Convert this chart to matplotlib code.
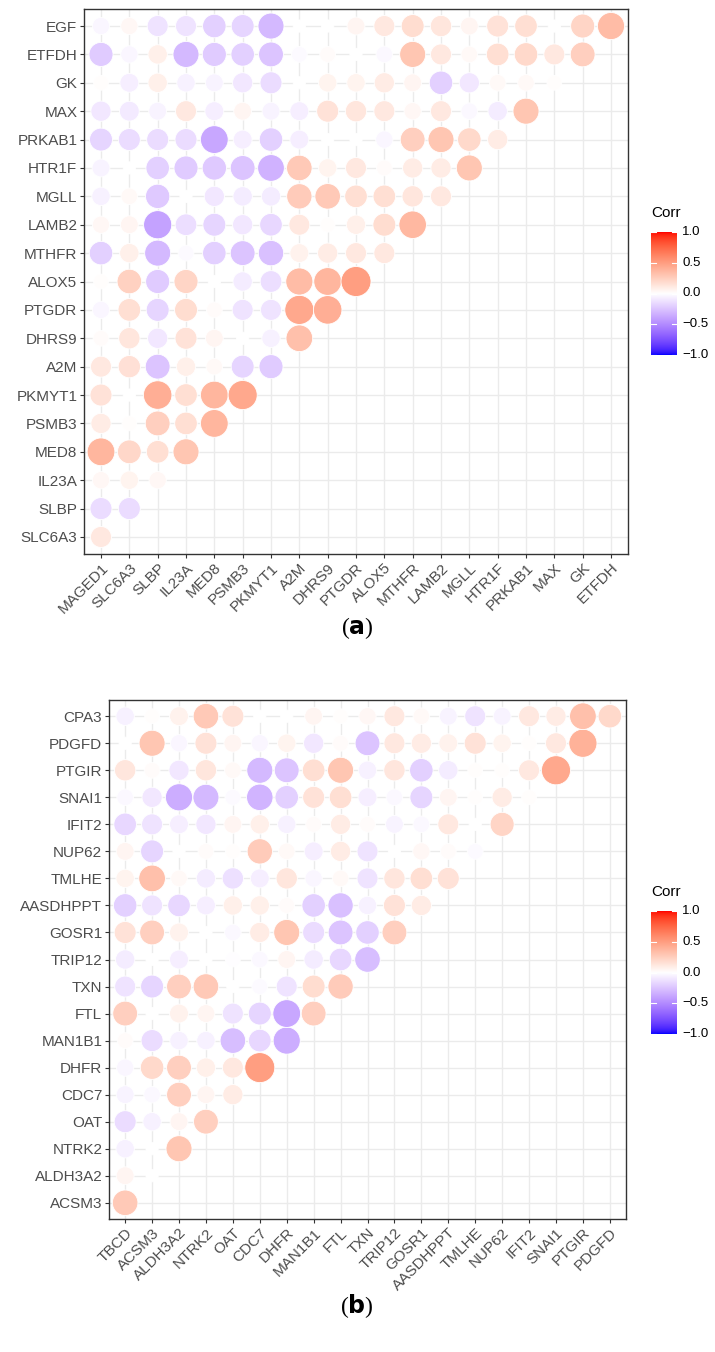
import numpy as np
import matplotlib.pyplot as plt

W, H, DPI = 715, 1352, 100

# panel (a): variable order, lower triangle (row i holds corr with vars 0..i-1)
genes_a = ["MAGED1", "SLC6A3", "SLBP", "IL23A", "MED8", "PSMB3", "PKMYT1", "A2M",
           "DHRS9", "PTGDR", "ALOX5", "MTHFR", "LAMB2", "MGLL", "HTR1F", "PRKAB1",
           "MAX", "GK", "ETFDH", "EGF"]
tri_a = [
    [0.12],
    [-0.15, -0.15],
    [0.04, 0.06, 0.04],
    [0.38, 0.21, 0.17, 0.30],
    [0.10, 0.01, 0.25, 0.17, 0.38],
    [0.15, 0.00, 0.42, 0.17, 0.38, 0.45],
    [0.12, 0.16, -0.25, 0.08, 0.03, -0.18, -0.22],
    [0.02, 0.13, -0.10, 0.15, 0.05, 0.00, -0.06, 0.33],
    [-0.04, 0.17, -0.18, 0.18, 0.02, -0.12, -0.12, 0.45, 0.42],
    [0.01, 0.24, -0.22, 0.22, 0.00, -0.08, -0.14, 0.35, 0.38, 0.50],
    [-0.20, 0.08, -0.30, -0.02, -0.20, -0.25, -0.27, 0.07, 0.10, 0.12, 0.12],
    [0.04, 0.05, -0.40, -0.14, -0.18, -0.10, -0.17, 0.12, 0.01, 0.08, 0.18, 0.37],
    [-0.06, 0.03, -0.23, 0.00, -0.10, -0.08, -0.08, 0.27, 0.28, 0.17, 0.17, 0.13, 0.12],
    [-0.05, 0.00, -0.20, -0.22, -0.23, -0.25, -0.33, 0.28, 0.06, 0.12, 0.02, 0.10, 0.10, 0.30],
    [-0.18, -0.15, -0.15, -0.15, -0.38, -0.07, -0.20, -0.07, 0.00, 0.00, -0.04, 0.25, 0.30,
     0.20, 0.10],
    [-0.10, -0.09, -0.05, 0.12, -0.07, 0.05, -0.05, -0.07, 0.15, 0.13, 0.12, 0.04, 0.12,
     -0.03, -0.08, 0.30],
    [0.01, -0.07, 0.08, -0.06, -0.05, -0.10, -0.15, 0.00, 0.06, 0.06, 0.10, 0.05, -0.20,
     -0.10, 0.03, 0.03, 0.01],
    [-0.22, -0.04, 0.08, -0.30, -0.22, -0.20, -0.25, -0.02, 0.02, 0.00, -0.03, 0.30, 0.12,
     0.03, 0.17, 0.20, 0.12, 0.25],
    [-0.04, 0.04, -0.12, -0.12, -0.20, -0.18, -0.30, 0.00, 0.00, 0.05, 0.12, 0.18, 0.13,
     0.05, 0.15, 0.17, 0.00, 0.22, 0.35],
]

# panel (b)
genes_b = ["TBCD", "ACSM3", "ALDH3A2", "NTRK2", "OAT", "CDC7", "DHFR", "MAN1B1", "FTL",
           "TXN", "TRIP12", "GOSR1", "AASDHPPT", "TMLHE", "NUP62", "IFIT2", "SNAI1",
           "PTGIR", "PDGFD", "CPA3"]
tri_b = [
    [0.28],
    [0.05, 0.00],
    [-0.06, 0.00, 0.30],
    [-0.15, -0.06, 0.05, 0.25],
    [-0.05, -0.03, 0.25, 0.05, 0.10],
    [-0.04, 0.20, 0.25, 0.08, 0.12, 0.50],
    [0.02, -0.15, -0.06, -0.06, -0.28, -0.17, -0.35],
    [0.25, 0.00, 0.07, 0.05, -0.12, -0.18, -0.38, 0.25],
    [-0.12, -0.18, 0.25, 0.28, 0.00, -0.02, -0.12, 0.18, 0.27],
    [-0.08, 0.00, -0.07, 0.00, -0.01, -0.03, 0.05, -0.08, -0.17, -0.28],
    [0.15, 0.25, 0.07, 0.00, -0.03, 0.10, 0.30, -0.15, -0.25, -0.20, 0.25],
    [-0.20, -0.12, -0.17, -0.07, 0.08, 0.08, 0.02, -0.20, -0.27, -0.06, 0.15, 0.10],
    [0.06, 0.33, 0.03, -0.08, -0.13, -0.07, 0.13, -0.04, 0.03, -0.12, 0.13, 0.17, 0.15],
    [0.05, -0.18, 0.00, 0.02, 0.01, 0.27, 0.03, -0.07, 0.10, -0.12, 0.00, 0.04, 0.02, -0.02],
    [-0.17, -0.12, -0.07, -0.10, 0.05, 0.08, -0.06, 0.02, 0.10, 0.02, -0.05, -0.03, 0.12,
     0.00, 0.22],
    [-0.03, -0.10, -0.35, -0.30, -0.02, -0.32, -0.20, 0.15, 0.17, -0.07, -0.03, -0.18, 0.05,
     0.01, 0.10, 0.01],
    [0.13, 0.02, -0.10, 0.13, 0.03, -0.30, -0.25, 0.17, 0.30, -0.06, 0.13, -0.20, -0.08,
     0.01, 0.01, 0.12, 0.45],
    [0.00, 0.30, -0.04, 0.15, 0.05, -0.04, 0.06, -0.10, 0.02, -0.25, 0.12, 0.10, 0.07, 0.15,
     0.06, 0.01, 0.12, 0.40],
    [-0.06, 0.01, 0.07, 0.28, 0.15, 0.00, 0.00, 0.05, 0.01, 0.04, 0.12, 0.03, -0.05, -0.12,
     -0.05, 0.12, 0.10, 0.33, 0.20],
]

legend_ticks = [-1.0, -0.5, 0.0, 0.5, 1.0]


# blue - white - red gradient interpolated in CIELAB (like scale_fill_gradient2)
def srgb_to_lab(rgb):
    c = np.asarray(rgb, float)
    c = np.where(c <= 0.04045, c / 12.92, ((c + 0.055) / 1.055) ** 2.4)
    m = np.array([[0.4124, 0.3576, 0.1805], [0.2126, 0.7152, 0.0722], [0.0193, 0.1192, 0.9505]])
    xyz = m @ c / np.array([0.95047, 1.0, 1.08883])
    f = np.where(xyz > 0.008856, np.cbrt(xyz), 7.787 * xyz + 16 / 116)
    return np.array([116 * f[1] - 16, 500 * (f[0] - f[1]), 200 * (f[1] - f[2])])


def lab_to_srgb(lab):
    fy = (lab[0] + 16) / 116
    fx = fy + lab[1] / 500
    fz = fy - lab[2] / 200
    f = np.array([fx, fy, fz])
    xyz = np.where(f ** 3 > 0.008856, f ** 3, (f - 16 / 116) / 7.787) * np.array([0.95047, 1.0, 1.08883])
    m = np.array([[3.2406, -1.5372, -0.4986], [-0.9689, 1.8758, 0.0415], [0.0557, -0.2040, 1.0570]])
    c = m @ xyz
    c = np.where(c <= 0.0031308, 12.92 * c, 1.055 * np.clip(c, 0, None) ** (1 / 2.4) - 0.055)
    return np.clip(c, 0, 1)


LAB_W = srgb_to_lab([1, 1, 1])
LAB_R = srgb_to_lab([1, 0, 0])
LAB_B = srgb_to_lab([0, 0, 1])


def corr_color(v):
    end = LAB_R if v >= 0 else LAB_B
    return lab_to_srgb(LAB_W + abs(v) * (end - LAB_W))


TXT = "#4D4D4D"
DARK = "#333333"


def px_axes(fig, x0, y0, x1, y1):
    return fig.add_axes([x0 / W, 1 - y1 / H, (x1 - x0) / W, (y1 - y0) / H])


def draw_panel(ax, genes, tri):
    xs, ys, vals = [], [], []
    for i, row in enumerate(tri, start=1):
        for j, v in enumerate(row):
            xs.append(j)
            ys.append(i - 1)
            vals.append(v)
    vals = np.array(vals)
    a = np.abs(vals)
    r = (a - a.min()) / (a.max() - a.min())
    d_px = 12.3 + (30.0 - 12.3) * np.sqrt(r)
    sizes = (d_px * 72 / DPI) ** 2
    cols = [corr_color(v) for v in vals]
    ax.scatter(xs, ys, s=sizes, c=cols, edgecolors="white", linewidths=0.6, zorder=3)

    n = len(genes) - 1
    ax.set_xlim(-0.6, n - 1 + 0.6)
    ax.set_ylim(-0.6, n - 1 + 0.6)
    ax.set_xticks(range(n))
    ax.set_xticklabels(genes[:-1], rotation=45, ha="right", va="top", rotation_mode="anchor")
    ax.set_yticks(range(n))
    ax.set_yticklabels(genes[1:])
    ax.grid(True, color="#EBEBEB", linewidth=1.0)
    ax.set_axisbelow(True)
    for sp in ax.spines.values():
        sp.set_color(DARK)
        sp.set_linewidth(1.0)
    ax.tick_params(length=2.8, width=0.8, color=DARK, labelsize=11, labelcolor=TXT, pad=2)


def draw_legend(fig, y_top):
    cax = px_axes(fig, 651, y_top, 677, y_top + 123)
    grad = np.linspace(-1, 1, 200)
    img = np.array([corr_color(v) for v in grad])[:, None, :]
    cax.imshow(img, extent=[0, 1, -1, 1], origin="lower", aspect="auto")
    for t in legend_ticks:
        cax.plot([0, 0.2], [t, t], color="white", lw=0.8)
        cax.plot([0.8, 1], [t, t], color="white", lw=0.8)
        cax.text(1.2, t, f"{t:.1f}".replace("-", "\u2212"), ha="left", va="center",
                 fontsize=9.5, color="black", family="Liberation Sans")
    cax.set_xlim(0, 1)
    cax.set_ylim(-1, 1)
    cax.axis("off")
    fig.text(651 / W, 1 - (y_top - 19) / H, "Corr", ha="left", va="center",
             fontsize=11, color="black", family="Liberation Sans")


plt.rcParams["font.family"] = ["Liberation Sans", "DejaVu Sans"]
fig = plt.figure(figsize=(W / DPI, H / DPI), dpi=DPI)
fig.patch.set_facecolor("white")

ax_a = px_axes(fig, 84, 9, 628, 554)
draw_panel(ax_a, genes_a, tri_a)
draw_legend(fig, 232)

ax_b = px_axes(fig, 109, 700, 626, 1219)
draw_panel(ax_b, genes_b, tri_b)
draw_legend(fig, 911)

fig.text(357 / W, 1 - 628 / H, r"($\mathbf{a}$)", ha="center", va="center", fontsize=17,
         family="Liberation Serif")
fig.text(357 / W, 1 - 1306 / H, r"($\mathbf{b}$)", ha="center", va="center", fontsize=17,
         family="Liberation Serif")

fig.savefig("out.png", dpi=DPI)
